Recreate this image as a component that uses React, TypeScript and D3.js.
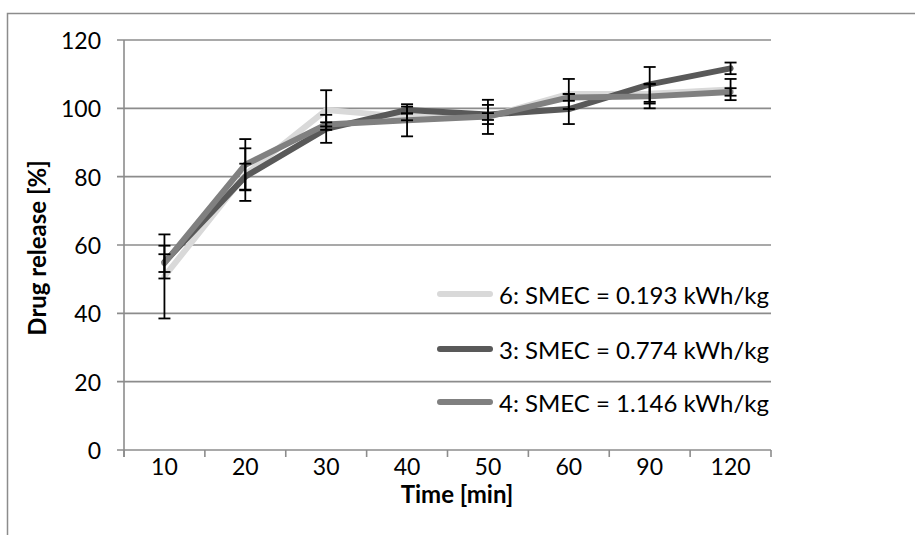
import React from "react";
import * as d3 from "d3";

const categories = ["10", "20", "30", "40", "50", "60", "90", "120"];
const yTicks = [0, 20, 40, 60, 80, 100, 120];

const seriesNames = [
  "6: SMEC = 0.193 kWh/kg",
  "3: SMEC = 0.774 kWh/kg",
  "4: SMEC = 1.146 kWh/kg",
];
const s6Values = [50.8, 80.6, 99.5, 97.5, 97.5, 104.2, 104.3, 105.5];
const s6Errors = [12.3, 7.7, 5.8, 1.0, 5.0, 4.4, 2.9, 3.1];
const s3Values = [55.0, 80.0, 94.0, 99.5, 98.2, 99.8, 107.0, 111.7];
const s3Errors = [4.8, 3.8, 4.1, 1.0, 2.8, 4.4, 5.1, 1.7];
const s4Values = [54.7, 83.5, 95.3, 96.5, 97.6, 103.2, 103.5, 104.8];
const s4Errors = [2.6, 7.5, 0.6, 4.7, 1.0, 1.0, 3.5, 1.1];

const seriesColors = ["#d9d9d9", "#595959", "#808080"];

const W = 915;
const H = 535;
const left = 124;
const right = 771;
const top = 40;
const bottom = 450;
const FONT = "Lato, 'Open Sans', sans-serif";
const gridColor = "#8c8c8c";

export default function App() {
  const x = d3.scaleBand<string>().domain(categories).range([left, right]).padding(0);
  const y = d3.scaleLinear().domain([0, 120]).range([bottom, top]);
  const cx = (c: string) => (x(c) as number) + x.bandwidth() / 2;

  const series = [
    { name: seriesNames[0], values: s6Values, errors: s6Errors, color: seriesColors[0] },
    { name: seriesNames[1], values: s3Values, errors: s3Errors, color: seriesColors[1] },
    { name: seriesNames[2], values: s4Values, errors: s4Errors, color: seriesColors[2] },
  ];

  const line = d3
    .line<number>()
    .x((_, i) => cx(categories[i]))
    .y((d) => y(d));

  const legendY = [294, 349, 402];

  return (
    <svg
      width={W}
      height={H}
      style={{ position: "absolute", left: 0, top: 0, background: "#fff" }}
      fontFamily={FONT}
    >
      <rect x={0} y={0} width={W} height={H} fill="#fff" />
      {/* outer chart border */}
      <rect x={7.5} y={13.5} width={1200} height={1200} fill="none" stroke="#8c8c8c" strokeWidth={1.5} />

      {/* gridlines + y ticks */}
      {yTicks.map((t) => (
        <g key={t}>
          <line x1={117} x2={right} y1={y(t)} y2={y(t)} stroke={gridColor} strokeWidth={1.6} />
          <text
            x={101}
            y={y(t)}
            textAnchor="end"
            dominantBaseline="central"
            fontSize={23}
            fill="#000"
          >
            {t}
          </text>
        </g>
      ))}

      {/* y axis */}
      <line x1={left} x2={left} y1={top} y2={bottom + 7} stroke={gridColor} strokeWidth={1.6} />
      {/* x axis tick marks */}
      {categories.concat(["end"]).map((c, i) => {
        const xx = i < categories.length ? (x(c) as number) : right;
        return <line key={"xt" + i} x1={xx} x2={xx} y1={bottom} y2={bottom + 7} stroke={gridColor} strokeWidth={1.6} />;
      })}
      {/* x tick labels */}
      {categories.map((c) => (
        <text key={"xl" + c} x={cx(c)} y={475} textAnchor="middle" fontSize={23} fill="#000">
          {c}
        </text>
      ))}

      {/* axis titles */}
      <text x={457} y={503} textAnchor="middle" fontSize={24} fontWeight="bold" fill="#000">
        Time [min]
      </text>
      <text
        transform={`translate(46, 248) rotate(-90)`}
        textAnchor="middle"
        fontSize={24}
        fontWeight="bold"
        fill="#000"
      >
        Drug release [%]
      </text>

      {/* series lines */}
      {series.map((s) => (
        <path
          key={s.name}
          d={line(s.values) || ""}
          fill="none"
          stroke={s.color}
          strokeWidth={6}
          strokeLinejoin="round"
          strokeLinecap="round"
        />
      ))}

      {/* error bars */}
      {series.map((s) =>
        s.values.map((v, i) => {
          const xx = cx(categories[i]);
          const y1 = y(v + s.errors[i]);
          const y2 = y(v - s.errors[i]);
          return (
            <g key={s.name + i} stroke="#000" strokeWidth={1.8}>
              <line x1={xx} x2={xx} y1={y1} y2={y2} />
              <line x1={xx - 6} x2={xx + 6} y1={y1} y2={y1} />
              <line x1={xx - 6} x2={xx + 6} y1={y2} y2={y2} />
            </g>
          );
        })
      )}

      {/* legend */}
      {series.map((s, i) => (
        <g key={"lg" + i}>
          <line
            x1={440}
            x2={490}
            y1={legendY[i]}
            y2={legendY[i]}
            stroke={s.color}
            strokeWidth={6}
            strokeLinecap="round"
          />
          <text x={499} y={legendY[i]} dominantBaseline="central" fontSize={24} fill="#000">
            {s.name}
          </text>
        </g>
      ))}
    </svg>
  );
}
